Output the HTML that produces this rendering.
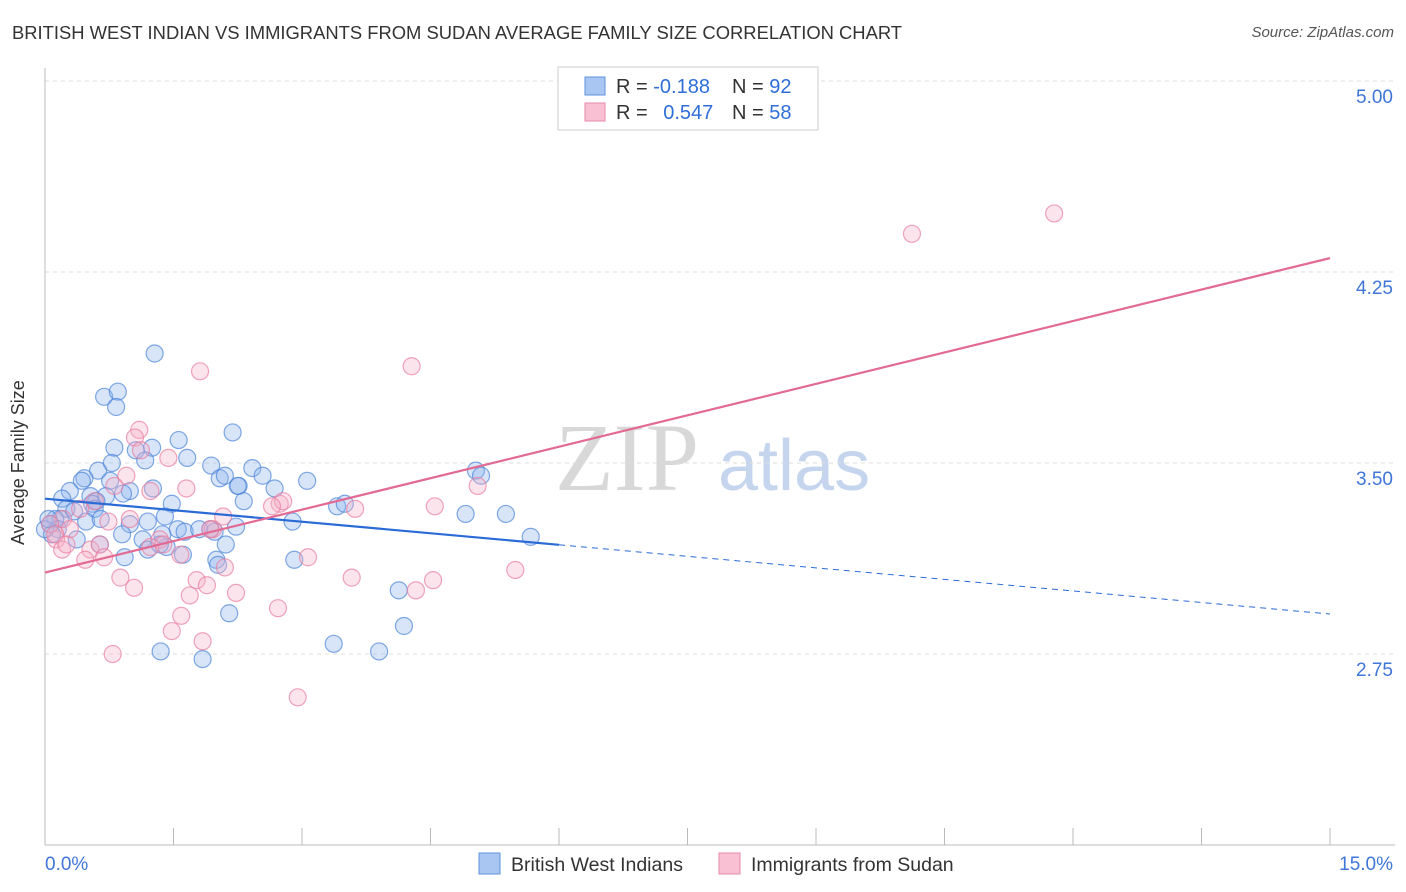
<!DOCTYPE html>
<html><head><meta charset="utf-8"><style>
body{margin:0;background:#fff;font-family:"Liberation Sans",sans-serif;}
#wrap{position:relative;width:1406px;height:892px;overflow:hidden;}
.t{position:absolute;white-space:nowrap;}
</style></head><body>
<div id="wrap">
<div class="t" style="left:12px;top:22px;font-size:18.4px;color:#333;">BRITISH WEST INDIAN VS IMMIGRANTS FROM SUDAN AVERAGE FAMILY SIZE CORRELATION CHART</div>
<div class="t" style="right:12px;top:24px;font-size:15px;color:#555;font-style:italic;">Source: ZipAtlas.com</div>
<div class="t" style="left:8px;font-size:18px;color:#333;transform:rotate(-90deg);transform-origin:0 0;top:545px;">Average Family Size</div>
<svg id="svg" width="1406" height="892" style="position:absolute;left:0;top:0"></svg>
</div>
<script>
const blueX=[1.28,.69,.85,.83,2.19,1.56,.81,1.25,1.06,1.17,.78,1.66,1.94,.62,2.42,.46,.43,.76,2.04,2.10,2.54,3.06,2.26,1.26,2.25,2.68,.99,.91,.71,.53,.29,.20,.60,.55,1.48,2.32,3.41,3.50,.25,.34,.58,.18,.48,.65,.99,1.20,1.40,2.89,2.23,.12,.06,.15,.08,.37,.64,.90,1.14,1.37,1.55,1.63,1.93,1.98,1.80,2.11,1.42,1.20,1.34,1.61,.93,2.91,2.00,2.02,4.91,5.38,5.67,5.03,5.09,4.13,2.15,4.19,3.37,3.90,1.35,1.84,0,.04];
const blueY=[3.93,3.76,3.78,3.72,3.62,3.59,3.56,3.56,3.55,3.51,3.50,3.52,3.49,3.47,3.48,3.44,3.43,3.43,3.44,3.45,3.45,3.43,3.41,3.40,3.41,3.40,3.39,3.38,3.37,3.37,3.39,3.36,3.35,3.34,3.34,3.35,3.33,3.34,3.32,3.31,3.32,3.28,3.27,3.28,3.26,3.27,3.29,3.27,3.25,3.28,3.26,3.24,3.22,3.20,3.18,3.22,3.20,3.22,3.24,3.23,3.24,3.23,3.24,3.18,3.17,3.16,3.18,3.14,3.13,3.12,3.12,3.10,3.30,3.30,3.21,3.47,3.45,3.00,2.91,2.86,2.79,2.76,2.76,2.73,3.24,3.28];
const pinkX=[11.78,10.12,4.28,1.81,1.10,1.05,1.44,1.12,.95,1.65,1.23,.81,.58,.41,.74,.21,.29,.13,.20,.53,.64,.47,.69,.88,1.34,1.23,1.38,1.58,1.96,2.08,2.74,2.78,2.65,3.62,4.55,5.05,3.07,3.58,4.53,5.49,1.77,1.89,2.10,2.23,1.69,1.04,1.59,1.48,1.84,2.72,4.33,.79,2.95,.06,.12,.25,1.93,.99];
const pinkY=[4.48,4.40,3.88,3.86,3.63,3.60,3.52,3.55,3.45,3.40,3.39,3.41,3.35,3.32,3.27,3.28,3.24,3.20,3.16,3.16,3.18,3.12,3.13,3.05,3.20,3.17,3.18,3.14,3.24,3.29,3.34,3.35,3.33,3.32,3.33,3.41,3.13,3.05,3.04,3.08,3.04,3.02,3.09,2.99,2.98,3.01,2.90,2.84,2.80,2.93,3.00,2.75,2.58,3.26,3.22,3.18,3.24,3.28];
const blueTrend=[3.36,-0.0302]; // intercept, slope
const pinkTrend=[3.07,0.0823];
const yTicks=[5.00,4.25,3.50,2.75];
const xTicks=[0,1.5,3,4.5,6,7.5,9,10.5,12,13.5,15];

const X=v=>45+v/15*1285;
const Y=v=>81+(5-v)*254.67;
const svg=document.getElementById('svg');
const NS='http://www.w3.org/2000/svg';
function mk(tag,attrs,parent){const e=document.createElementNS(NS,tag);for(const k in attrs)e.setAttribute(k,attrs[k]);(parent||svg).appendChild(e);return e;}

let wm=mk('text',{x:555,y:490,'font-size':96,'font-family':'Liberation Serif, serif',fill:'#d8d8d8'});wm.textContent='ZIP';


let wm2=mk('text',{x:718,y:490,'font-size':72,'font-family':'Liberation Sans, sans-serif',fill:'#c5d5ee'});wm2.textContent='atlas';



yTicks.forEach(v=>{
 const g=mk('line',{x1:45,x2:1395,y1:Y(v),y2:Y(v),stroke:'#ddd','stroke-dasharray':'4,4'});
 
 
 const t=mk('text',{x:1393,y:Y(v)+22,'text-anchor':'end','font-size':19,fill:'#3f76d8','font-family':'Liberation Sans, sans-serif'});
 t.textContent=v.toFixed(2);
 
 
});
const ax=mk('line',{x1:45,x2:45,y1:68,y2:845,stroke:'#bbb'});


const bx=mk('line',{x1:45,x2:1395,y1:845,y2:845,stroke:'#bbb'});


xTicks.forEach(v=>{
 const l=mk('line',{x1:X(v),x2:X(v),y1:828,y2:845,stroke:'#bbb'});
 
 
});
[[0,'start','0.0%',0],[15,'end','15.0%',63]].forEach(([v,a,s,o])=>{
 const t=mk('text',{x:X(v)+o,y:870,'text-anchor':a,'font-size':19,fill:'#3f76d8','font-family':'Liberation Sans, sans-serif'});
 t.textContent=s;
 
 
});

function pts(xs,ys,fill,stroke,name){
 xs.forEach((x,i)=>{
  const c=mk('circle',{cx:X(x),cy:Y(ys[i]),r:8.5,fill:fill,'fill-opacity':0.35,stroke:stroke,'stroke-opacity':0.7,'stroke-width':1.2});
  
  
 });
}
pts(blueX,blueY,'#8fb5ee','#4b84d8','point-british-west-indian');
pts(pinkX,pinkY,'#f6b3c8','#e87ea0','point-sudan');

const bt=v=>blueTrend[0]+blueTrend[1]*v, pt=v=>pinkTrend[0]+pinkTrend[1]*v;
let l1=mk('line',{x1:X(0),y1:Y(bt(0)),x2:X(6),y2:Y(bt(6)),stroke:'#2a6bd6','stroke-width':2.2});


let l2=mk('line',{x1:X(6),y1:Y(bt(6)),x2:X(15),y2:Y(bt(15)),stroke:'#2a6bd6','stroke-width':1,'stroke-dasharray':'6,5'});


let l3=mk('line',{x1:X(0),y1:Y(pt(0)),x2:X(15),y2:Y(pt(15)),stroke:'#e26a93','stroke-width':2.2});



const lg=mk('rect',{x:558,y:67,width:260,height:63,fill:'#fff',stroke:'#ccc'});


[[77,'#a9c6f3','#5f92dc','-0.188','92'],[103,'#f8c0d2','#e88aab','0.547','58']].forEach(([y,f,s,r,n])=>{
 const b=mk('rect',{x:585,y:y,width:20,height:18,fill:f,stroke:s});
 
 
 const t=mk('text',{x:616,y:y+16,'font-size':20,fill:'#333','font-family':'Liberation Sans, sans-serif'});
 t.innerHTML='R = <tspan fill="#2f6ed8">'+(r[0]==='-'?'':'\u2002')+r+'</tspan><tspan x="732">N = </tspan><tspan fill="#2f6ed8">'+n+'</tspan>';
 
 
});
[[479,'#a9c6f3','#5f92dc','British West Indians'],[719,'#f8c0d2','#e88aab','Immigrants from Sudan']].forEach(([x,f,s,lab])=>{
 const b=mk('rect',{x:x,y:853,width:21,height:21,fill:f,stroke:s});
 
 
 const t=mk('text',{x:x+32,y:871,'font-size':19.5,fill:'#333','font-family':'Liberation Sans, sans-serif'});
 t.textContent=lab;
 
 
});
</script>
</body></html>
